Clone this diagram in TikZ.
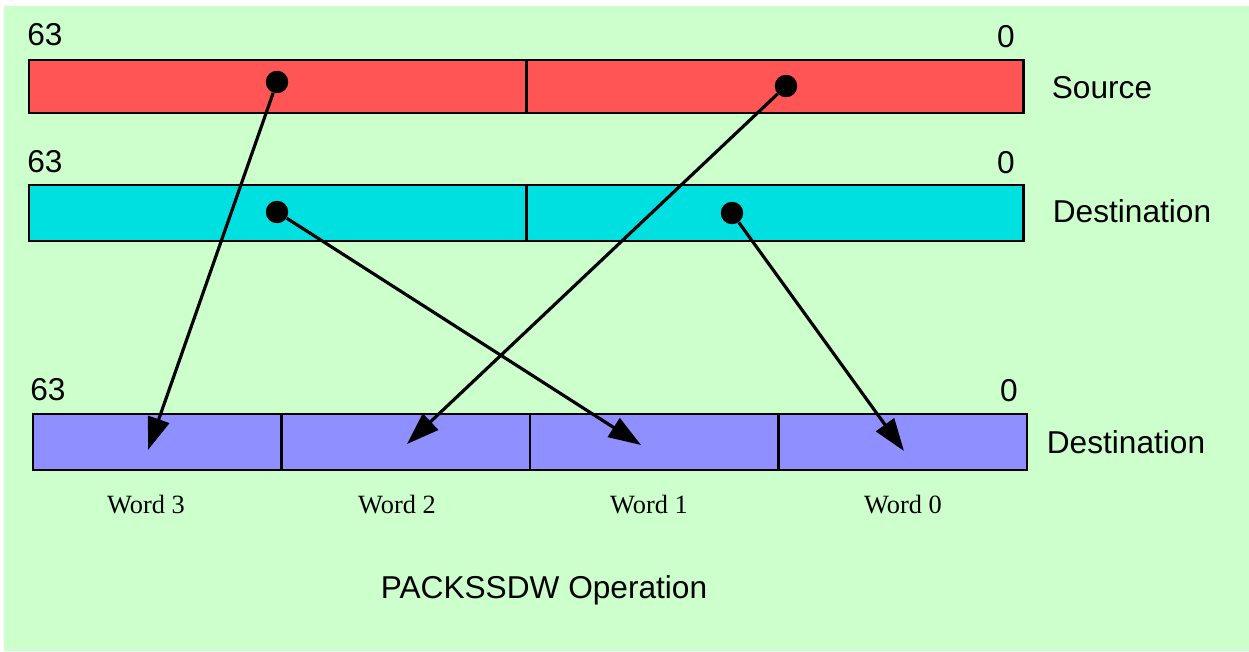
\documentclass[tikz,border=0pt]{standalone}
\usepackage{fontspec}
\setmainfont{Liberation Serif}
\setsansfont{Liberation Sans}
\usetikzlibrary{positioning,arrows.meta}

\definecolor{bggreen}{RGB}{204,255,204}
\definecolor{srcred}{RGB}{255,85,85}
\definecolor{dstcyan}{RGB}{0,224,224}
\definecolor{respurple}{RGB}{143,143,255}

\begin{document}
\begin{tikzpicture}[
x=0.02cm,
y=-0.02cm,
field/.style={
  draw,
  line width=1.5pt,
  inner sep=0pt,
  outer sep=0pt,
  anchor=north west
  },
dot/.style={
  circle,
  fill,
  inner sep=0pt,
  minimum size=0.45cm
  },
move/.style={
  ->,
  line width=1.8pt
  },
lbl/.style={
  font=\sffamily\fontsize{18}{21}\selectfont,
  inner sep=0pt
  },
word/.style={
  font=\rmfamily\fontsize{15}{18}\selectfont,
  inner sep=0pt
  },
>={Triangle[length=0.65cm,width=0.44cm]}
]
\useasboundingbox (0,0) rectangle (1249,652);
\fill[bggreen] (4,6) rectangle (1249,651);

% source register
\node[field, fill=srcred, minimum width=9.95cm, minimum height=1.06cm] (src-hi) at (29,60) {};
\node[field, fill=srcred, minimum width=9.95cm, minimum height=1.06cm, right=0pt of src-hi] (src-lo) {};

% destination register
\node[field, fill=dstcyan, minimum width=9.95cm, minimum height=1.12cm] (dst-hi) at (29,185) {};
\node[field, fill=dstcyan, minimum width=9.95cm, minimum height=1.12cm, right=0pt of dst-hi] (dst-lo) {};

% packed result
\foreach \i/\x in {3/33,2/281.5,1/530,0/778.5}
  \node[field, fill=respurple, minimum width=4.97cm, minimum height=1.12cm] (res-\i) at (\x,414) {};

% bit numbers and register names
\node[lbl] (src-63) at (45,35) {63};
\node[lbl] (src-0) at (1006,37) {0};
\node[lbl] (src-name) at (1102,88) {Source};
\node[lbl] (dst-63) at (45,162) {63};
\node[lbl] (dst-0) at (1006,163) {0};
\node[lbl] (dst-name) at (1132,211) {Destination};
\node[lbl] (res-63) at (48,390) {63};
\node[lbl] (res-0) at (1009,391) {0};
\node[lbl] (res-name) at (1126,442) {Destination};

\foreach \i/\x in {3/146,2/397,1/649,0/903}
  \node[word] (word-\i) at (\x,505) {Word \i};

\node[lbl] (title) at (544,590) {PACKSSDW Operation};

% moves
\node[dot] (src-d1) at (277,82) {};
\node[dot] (src-d0) at (786,86) {};
\node[dot] (dst-d1) at (277,212) {};
\node[dot] (dst-d0) at (732,213) {};

\coordinate (tip-3) at (148,450);
\coordinate (tip-2) at (407,444);
\coordinate (tip-1) at (641,445);
\coordinate (tip-0) at (904,451);

\draw[move] (src-d1) -- (tip-3);
\draw[move] (src-d0) -- (tip-2);
\draw[move] (dst-d1) -- (tip-1);
\draw[move] (dst-d0) -- (tip-0);

\end{tikzpicture}
\end{document}
